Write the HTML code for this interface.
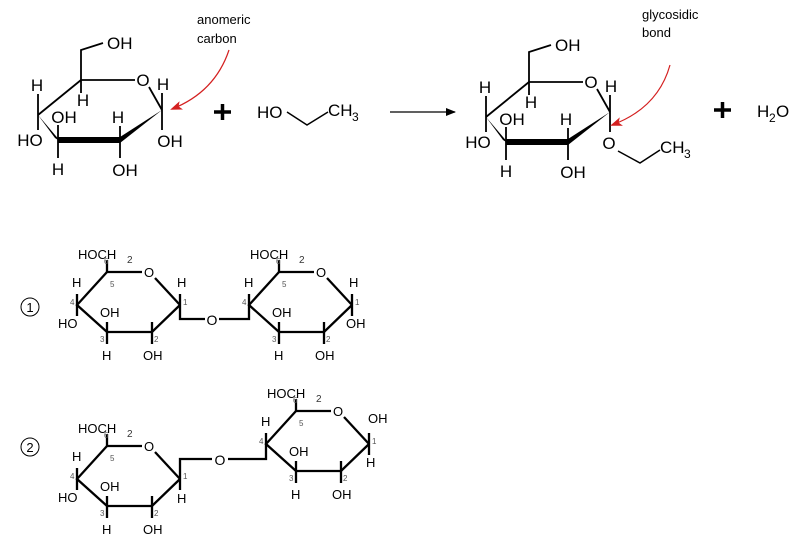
<!DOCTYPE html>
<html><head><meta charset="utf-8"><style>
html,body{margin:0;padding:0;background:#fff;width:800px;height:545px;overflow:hidden}
svg{display:block}
text{font-family:"Liberation Sans",sans-serif;fill:#000}
.b text{font-size:17px}
.s text{font-size:13px}
.s text.n{font-size:8px;fill:#555}
.s text.sub{font-size:10px;fill:#333}
</style></head><body>
<svg width="800" height="545" viewBox="0 0 800 545" xmlns="http://www.w3.org/2000/svg">
<defs>
<marker id="ar" markerWidth="10" markerHeight="8" refX="9" refY="4" orient="auto" markerUnits="userSpaceOnUse"><path d="M0,0 L10,4 L0,8 Z" fill="#000"/></marker>
<marker id="rr" markerWidth="12" markerHeight="9" refX="10" refY="4.5" orient="auto" markerUnits="userSpaceOnUse"><path d="M0,0 L12,4.5 L0,9 L3,4.5 Z" fill="#d42020"/></marker>
<g id="big" stroke="#000" stroke-width="1.8" fill="none">
<line x1="0" y1="0" x2="54" y2="0"/>
<line x1="68" y1="7" x2="81" y2="30"/>
<line x1="0" y1="0" x2="-43" y2="35"/>
<polygon points="-43,35 -26,58 -20,62" fill="#000" stroke="none"/>
<line x1="-23" y1="60" x2="39" y2="60" stroke-width="6"/>
<polygon points="39,57 39,63 81,30" fill="#000" stroke="none"/>
<polyline points="0,0 0,-30 22,-37"/>
<line x1="81" y1="30" x2="81" y2="13"/>
<line x1="-43" y1="35" x2="-43" y2="14"/>
<line x1="0" y1="0" x2="0" y2="13"/>
<line x1="-23" y1="60" x2="-23" y2="45"/>
<line x1="-43" y1="35" x2="-43" y2="50"/>
<line x1="-23" y1="60" x2="-23" y2="78"/>
<line x1="39" y1="60" x2="39" y2="46"/>
<line x1="39" y1="60" x2="39" y2="78"/>
<line x1="81" y1="30" x2="81" y2="50"/>
</g>
<g id="small" stroke="#000" stroke-width="2.3" fill="none">
<line x1="0" y1="0" x2="35" y2="0"/>
<line x1="48" y1="6" x2="73" y2="33"/>
<polyline points="73,33 45,60 0,60 -30,33 0,0"/>
<line x1="0" y1="0" x2="0" y2="-12"/>
<line x1="-30" y1="33" x2="-30" y2="22"/>
<line x1="0" y1="60" x2="0" y2="50"/>
<line x1="0" y1="60" x2="0" y2="72"/>
<line x1="45" y1="60" x2="45" y2="50"/>
<line x1="45" y1="60" x2="45" y2="72"/>
</g>
<g id="slab" class="s">
<text x="42" y="5" text-anchor="middle">O</text>
<text x="-29" y="-13">HOCH</text><text class="sub" x="20" y="-9">2</text>
<text class="n" x="-3" y="-8">6</text><text class="n" x="3" y="15">5</text>
<text class="n" x="76" y="33">1</text><text class="n" x="47" y="70">2</text>
<text class="n" x="-7" y="70">3</text><text class="n" x="-37" y="33">4</text>
<text x="-35" y="15">H</text>
<text x="-7" y="45">OH</text>
<text x="-5" y="88">H</text>
<text x="36" y="88">OH</text>
</g>
</defs>

<!-- top left glucose -->
<g transform="translate(81,80)" class="b">
<use href="#big"/>
<text x="26" y="-31">OH</text>
<text x="62" y="6" text-anchor="middle">O</text>
<text x="82" y="10" text-anchor="middle">H</text>
<text x="-44" y="11" text-anchor="middle">H</text>
<text x="2" y="26" text-anchor="middle">H</text>
<text x="-17" y="43" text-anchor="middle">OH</text>
<text x="-51" y="66" text-anchor="middle">HO</text>
<text x="-23" y="95" text-anchor="middle">H</text>
<text x="37" y="43" text-anchor="middle">H</text>
<text x="44" y="96" text-anchor="middle">OH</text>
<text x="89" y="67" text-anchor="middle">OH</text>
</g>
<text x="197" y="24" style="font-size:13px">anomeric</text>
<text x="197" y="43" style="font-size:13px">carbon</text>
<path d="M229,50 Q215,92 172,109" stroke="#d42020" stroke-width="1.2" fill="none" marker-end="url(#rr)"/>
<g stroke="#000" stroke-width="3.5"><line x1="214" y1="112" x2="231" y2="112"/><line x1="222.5" y1="104" x2="222.5" y2="120"/></g>
<g class="b"><text x="257" y="118">HO</text><text x="328" y="116">CH</text><text x="352" y="121" style="font-size:12px">3</text></g>
<polyline points="287,112 307,125 328,112" stroke="#000" stroke-width="1.5" fill="none"/>
<line x1="390" y1="112" x2="455" y2="112" stroke="#000" stroke-width="1.3" marker-end="url(#ar)"/>

<!-- product -->
<g transform="translate(529,82)" class="b">
<use href="#big"/>
<text x="26" y="-31">OH</text>
<text x="62" y="6" text-anchor="middle">O</text>
<text x="82" y="10" text-anchor="middle">H</text>
<text x="-44" y="11" text-anchor="middle">H</text>
<text x="2" y="26" text-anchor="middle">H</text>
<text x="-17" y="43" text-anchor="middle">OH</text>
<text x="-51" y="66" text-anchor="middle">HO</text>
<text x="-23" y="95" text-anchor="middle">H</text>
<text x="37" y="43" text-anchor="middle">H</text>
<text x="44" y="96" text-anchor="middle">OH</text>
<text x="80" y="67" text-anchor="middle">O</text>
</g>
<polyline points="618,151 640,163 660,150" stroke="#000" stroke-width="1.5" fill="none"/>
<g class="b"><text x="660" y="153">CH</text><text x="684" y="158" style="font-size:12px">3</text></g>
<text x="642" y="19" style="font-size:13px">glycosidic</text>
<text x="642" y="37" style="font-size:13px">bond</text>
<path d="M670,65 Q658,108 612,125" stroke="#d42020" stroke-width="1.2" fill="none" marker-end="url(#rr)"/>
<g stroke="#000" stroke-width="3.5"><line x1="714" y1="110" x2="731" y2="110"/><line x1="722.5" y1="102" x2="722.5" y2="118"/></g>
<g class="b"><text x="757" y="117">H</text><text x="769" y="122" style="font-size:12px">2</text><text x="776" y="117">O</text></g>

<!-- disaccharide 1 -->
<circle cx="30" cy="307" r="9" fill="none" stroke="#000" stroke-width="1"/>
<text x="30" y="312" text-anchor="middle" style="font-size:13px">1</text>
<g transform="translate(107,272)">
<use href="#small"/><use href="#slab"/>
<g stroke="#000" stroke-width="2.3"><line x1="-30" y1="33" x2="-30" y2="44"/><line x1="73" y1="33" x2="73" y2="22"/></g>
<g class="s"><text x="-49" y="56">HO</text><text x="70" y="15">H</text></g>
</g>
<polyline points="180,305 180,319 205,319" stroke="#000" stroke-width="2.3" fill="none"/>
<polyline points="219,319 249,319 249,305" stroke="#000" stroke-width="2.3" fill="none"/>
<text x="212" y="325" text-anchor="middle" style="font-size:14px">O</text>
<g transform="translate(279,272)">
<use href="#small"/><use href="#slab"/>
<g stroke="#000" stroke-width="2.3"><line x1="73" y1="33" x2="73" y2="44"/><line x1="73" y1="33" x2="73" y2="22"/></g>
<g class="s"><text x="67" y="56">OH</text><text x="70" y="15">H</text></g>
</g>

<!-- disaccharide 2 -->
<circle cx="30" cy="447" r="9" fill="none" stroke="#000" stroke-width="1"/>
<text x="30" y="452" text-anchor="middle" style="font-size:13px">2</text>
<g transform="translate(107,446)">
<use href="#small"/><use href="#slab"/>
<g stroke="#000" stroke-width="2.3"><line x1="-30" y1="33" x2="-30" y2="44"/><line x1="73" y1="33" x2="73" y2="44"/></g>
<g class="s"><text x="-49" y="56">HO</text><text x="70" y="57">H</text></g>
</g>
<polyline points="180,479 180,459 212,459" stroke="#000" stroke-width="2.3" fill="none"/>
<polyline points="228,459 266,459 266,444" stroke="#000" stroke-width="2.3" fill="none"/>
<text x="220" y="465" text-anchor="middle" style="font-size:14px">O</text>
<g transform="translate(296,411)">
<use href="#small"/><use href="#slab"/>
<g stroke="#000" stroke-width="2.3"><line x1="73" y1="33" x2="73" y2="44"/><line x1="73" y1="33" x2="73" y2="22"/></g>
<g class="s"><text x="72" y="12">OH</text><text x="70" y="56">H</text></g>
</g>
</svg>
</body></html>
